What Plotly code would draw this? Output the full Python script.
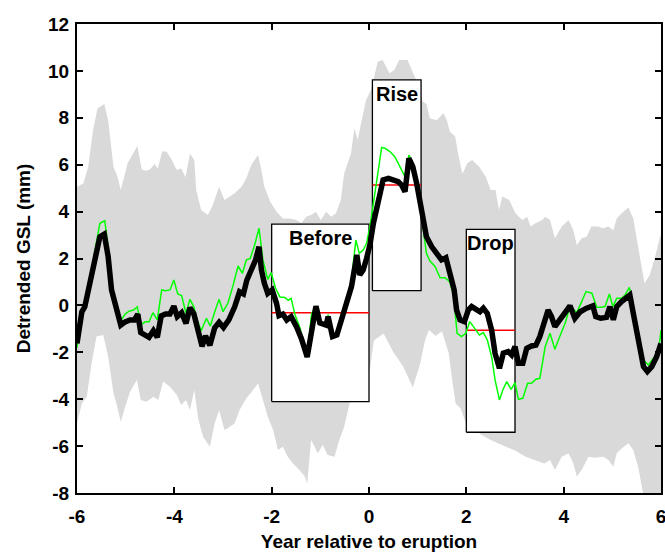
import plotly.graph_objects as go

# ---- observed detrended GSL (thick black) ----
obs_t = [-6.0, -5.90, -5.84, -5.73, -5.63, -5.53, -5.44, -5.36, -5.29, -5.21, -5.10, -5.01, -4.91, -4.82,
         -4.75, -4.69, -4.60, -4.52, -4.43, -4.35, -4.27, -4.18, -4.09, -4.01, -3.94, -3.85, -3.76, -3.68,
         -3.60, -3.53, -3.43, -3.36, -3.27, -3.17, -3.08, -2.99, -2.88, -2.76, -2.66, -2.58, -2.51, -2.42,
         -2.33, -2.26, -2.21, -2.15, -2.08, -1.99, -1.90, -1.85, -1.77, -1.69, -1.60, -1.49, -1.39, -1.27,
         -1.09, -1.01, -0.88, -0.84, -0.75, -0.66, -0.56, -0.46, -0.36, -0.29, -0.25, -0.19, -0.12, -0.05,
         0.02, 0.09, 0.16, 0.23, 0.29, 0.40, 0.50, 0.60, 0.67, 0.74, 0.82, 0.90, 0.98, 1.08, 1.18, 1.29,
         1.39, 1.49, 1.58, 1.66, 1.75, 1.80, 1.87, 1.96, 2.04, 2.11, 2.20, 2.28, 2.35, 2.43, 2.52, 2.59,
         2.68, 2.76, 2.86, 2.93, 3.00, 3.07, 3.16, 3.24, 3.34, 3.43, 3.51, 3.62, 3.68, 3.75, 3.82, 3.92,
         4.03, 4.13, 4.23, 4.34, 4.47, 4.60, 4.66, 4.76, 4.88, 4.95, 5.02, 5.09, 5.19, 5.29, 5.36, 5.45,
         5.53, 5.64, 5.72, 5.81, 5.91, 6.0]
obs_v = [-1.62, -0.27, -0.06, 0.94, 2.08, 2.93, 3.04, 2.08, 0.66, -0.06, -0.84, -0.70, -0.62, -0.62,
         -0.37, -1.16, -1.26, -1.36, -1.08, -1.36, -0.45, -0.37, -0.37, -0.03, -0.48, -0.31, -0.77, -0.10,
         -0.35, -0.95, -1.75, -1.30, -1.70, -0.95, -0.72, -0.94, -0.62, -0.06, 0.58, 0.49, 1.08, 1.51,
         1.94, 2.50, 1.51, 0.94, 0.51, 0.66, 0.09, -0.44, -0.37, -0.62, -0.48, -0.91, -1.41, -2.20,
         -0.03, -0.75, -0.84, -0.48, -1.33, -1.26, -0.62, 0.09, 0.80, 1.65, 2.15, 1.30, 1.51, 2.00,
         2.60, 3.50, 4.14, 4.78, 5.35, 5.42, 5.38, 5.28, 5.13, 4.85, 6.27, 5.92, 5.20, 4.07, 2.93, 2.50,
         2.22, 1.94, 2.03, 1.40, 0.66, -0.20, -0.62, -0.69, -0.20, -0.05, -0.20, -0.27, -0.12, -0.34, -1.05, -2.04,
         -2.68, -2.04, -1.97, -2.11, -1.76, -2.47, -2.47, -1.83, -1.73, -1.69, -1.33, -0.69, -0.20, -0.48, -0.91, -0.62,
         -0.34, -0.02, -0.55, -0.27, -0.12, -0.02, -0.48, -0.55, -0.51, -0.05, -0.62, -0.05, 0.16, 0.37, 0.44, -0.55,
         -1.47, -2.61, -2.82, -2.61, -2.19, -1.62]

# ---- composite / model series (thin green) ----
mod_t = [-6.0, -5.91, -5.84, -5.73, -5.63, -5.53, -5.43, -5.36, -5.27, -5.19, -5.10, -5.01, -4.93, -4.84,
         -4.76, -4.69, -4.60, -4.52, -4.44, -4.35, -4.26, -4.18, -4.09, -4.01, -3.93, -3.85, -3.76, -3.68,
         -3.60, -3.53, -3.45, -3.34, -3.26, -3.17, -3.08, -3.00, -2.90, -2.80, -2.69, -2.60, -2.52, -2.44,
         -2.35, -2.26, -2.18, -2.08, -2.01, -1.92, -1.83, -1.73, -1.66, -1.60, -1.52, -1.42, -1.27, -1.18,
         -1.09, -1.01, -0.88, -0.84, -0.75, -0.65, -0.56, -0.46, -0.36, -0.27, -0.20, -0.12, -0.05, 0.02,
         0.12, 0.21, 0.26, 0.33, 0.43, 0.53, 0.60, 0.67, 0.74, 0.82, 0.90, 0.98, 1.08, 1.18, 1.25, 1.36,
         1.46, 1.56, 1.66, 1.74, 1.81, 1.90, 1.99, 2.07, 2.18, 2.27, 2.35, 2.43, 2.52, 2.59, 2.68, 2.75,
         2.83, 2.92, 3.00, 3.07, 3.16, 3.26, 3.34, 3.43, 3.51, 3.62, 3.72, 3.82, 3.92, 4.03, 4.13, 4.27,
         4.37, 4.46, 4.58, 4.68, 4.78, 4.85, 4.94, 5.01, 5.09, 5.19, 5.26, 5.35, 5.43, 5.53, 5.64, 5.74,
         5.84, 5.95, 6.0]
mod_v = [-1.80, -0.34, -0.13, 1.08, 2.36, 3.50, 3.61, 2.50, 0.66, 0.09, -0.65, -0.37, -0.25, -0.20,
         -0.06, -0.84, -0.70, -0.70, -0.31, -0.62, 0.66, 0.63, 0.66, 1.08, 0.49, 0.42, -0.34, 0.26,
         -0.06, -0.62, -1.08, -0.55, -0.88, -0.27, 0.26, -0.27, 0.09, 0.80, 1.68, 1.37, 1.94, 2.00,
         2.57, 3.29, 1.94, 1.11, 1.40, 0.73, 0.36, 0.34, 0.22, 0.30, -0.40, -0.95, -2.22, -0.34,
         -0.03, -0.75, -0.75, -0.40, -1.20, -1.17, -0.48, 0.37, 1.08, 2.79, 2.22, 2.36, 2.65, 3.36,
         4.78, 5.92, 6.74, 6.70, 6.56, 6.34, 6.06, 5.77, 5.49, 6.41, 6.06, 4.92, 3.78, 2.22, 1.90, 1.65,
         1.18, 1.18, 1.01, 0.40, -1.19, -1.33, -1.19, -0.69, -0.98, -1.26, -1.16, -1.47, -2.19, -3.18, -4.03, -3.61,
         -3.25, -3.58, -3.29, -4.01, -3.96, -3.32, -3.32, -3.15, -3.11, -1.76, -1.19, -1.87, -1.33, -0.76, -0.05, -0.31,
         0.16, 0.59, 0.52, -0.08, -0.08, -0.05, 0.49, -0.05, 0.30, 0.30, 0.44, 0.77, -0.05, -1.05, -2.33, -2.54,
         -2.26, -1.97, -1.05]

# ---- grey envelope ----
up_t = [-6.0, -5.87, -5.77, -5.67, -5.58, -5.44, -5.36, -5.25, -5.18, -5.10, -4.96, -4.86, -4.76, -4.67,
        -4.58, -4.50, -4.41, -4.34, -4.25, -4.16, -4.07, -3.95, -3.86, -3.77, -3.68, -3.59, -3.55, -3.45,
        -3.31, -3.21, -3.08, -2.97, -2.86, -2.76, -2.62, -2.52, -2.42, -2.28, -2.21, -2.15, -2.03, -1.90,
        -1.77, -1.63, -1.49, -1.39, -1.29, -1.19, -1.09, -0.99, -0.88, -0.78, -0.68, -0.58, -0.51, -0.37,
        -0.30, -0.23, -0.165, -0.06, 0.04, 0.18, 0.28, 0.42, 0.52, 0.62, 0.79, 0.90, 1.0, 1.1, 1.18, 1.25,
        1.39, 1.53, 1.6, 1.66, 1.77, 1.83, 1.92, 2.02, 2.12, 2.26, 2.4, 2.5, 2.6, 2.67, 2.74, 2.88, 3.01,
        3.15, 3.25, 3.32, 3.42, 3.56, 3.62, 3.72, 3.82, 3.96, 4.10, 4.20, 4.27, 4.37, 4.47, 4.57, 4.71,
        4.81, 4.92, 5.02, 5.09, 5.19, 5.33, 5.43, 5.53, 5.66, 5.77, 5.88, 5.98, 6.0]
up_v = [5.06, 5.2, 5.9, 7.48, 8.4, 8.59, 7.9, 5.9, 5.56, 4.92, 6.06, 6.41, 6.8, 5.8,
        5.74, 5.8, 6.03, 5.84, 6.56, 6.56, 6.27, 5.77, 5.84, 5.46, 6.48, 6.2, 4.92, 4.07,
        3.85, 4.28, 5.06, 4.49, 4.63, 4.78, 5.06, 5.42, 5.99, 6.41, 5.77, 5.06, 4.42, 4.0,
        3.71, 3.71, 3.64, 3.5, 3.78, 3.85, 3.99, 3.64, 3.99, 3.78, 3.92, 4.5, 5.63, 6.48,
        7.55, 7.05, 7.76, 8.76, 9.19, 10.39, 10.46, 9.9, 10.04, 10.46, 10.46, 9.97, 9.47, 8.69, 8.6, 7.98,
        7.9, 8.19, 7.9, 7.4, 7.2, 6.48, 5.6, 6.06, 6.2, 5.92, 5.49, 4.92, 4.92, 4.07, 4.64, 4.49, 3.93,
        3.64, 3.78, 3.36, 3.5, 3.64, 3.78, 3.64, 2.86, 3.36, 3.64, 3.2, 2.57, 2.86, 2.93, 3.36, 3.36,
        3.29, 3.36, 3.2, 3.71, 3.93, 4.18, 3.71, 2.5, 0.94, 1.3, 2.08, 2.93, 3.0]
lo_t = [-6.0, -5.90, -5.80, -5.70, -5.60, -5.46, -5.36, -5.25, -5.19, -5.10, -5.01, -4.91, -4.77, -4.69,
        -4.57, -4.43, -4.33, -4.23, -4.09, -3.95, -3.86, -3.76, -3.68, -3.59, -3.51, -3.41, -3.27, -3.17,
        -3.08, -2.97, -2.90, -2.76, -2.66, -2.52, -2.38, -2.28, -2.18, -2.08, -1.97, -1.87, -1.77, -1.67,
        -1.56, -1.43, -1.32, -1.27, -1.19, -1.05, -0.95, -0.85, -0.71, -0.61, -0.51, -0.40, -0.25, -0.1,
        0.0, 0.1, 0.3, 0.5, 0.7, 0.9, 1.05, 1.15, 1.23, 1.37, 1.5, 1.64, 1.71, 1.78, 1.88, 1.99, 2.1,
        2.3, 2.5, 2.7, 3.01, 3.22, 3.40, 3.60, 3.72, 3.82, 3.96, 4.10, 4.20, 4.27, 4.37, 4.51, 4.64,
        4.81, 4.92, 5.02, 5.09, 5.19, 5.33, 5.43, 5.53, 5.64, 5.8, 6.0]
lo_v = [-5.03, -4.18, -3.9, -2.47, -1.33, -1.26, -2.19, -3.75, -4.18, -4.96, -4.32, -3.68, -3.18, -4.03,
        -4.11, -3.9, -4.03, -3.25, -3.47, -3.82, -4.25, -4.03, -4.46, -3.61, -4.82, -5.6, -6.03, -5.03,
        -4.46, -5.31, -5.24, -5.03, -4.46, -3.96, -3.61, -3.32, -4.03, -4.75, -5.31, -6.17, -6.03, -6.45,
        -6.74, -7.02, -7.3, -7.6, -5.74, -6.31, -5.95, -6.38, -6.45, -5.74, -5.17, -4.18, -3.3, -3.0,
        -3.0, -1.5, -1.2, -2.0, -2.6, -3.5, -2.5, -1.5, -1.05, -1.3, -1.1, -2.05, -3.2, -4.18, -4.39, -5.0, -5.2,
        -5.5, -5.74, -5.9, -6.2, -6.45, -6.6, -6.74, -6.59, -7.02, -6.45, -6.31, -6.74, -7.3, -7.02, -6.45, -6.5,
        -6.45, -6.59, -6.88, -6.31, -6.1, -5.88, -6.17, -6.88, -8.1, -8.6, -8.6]

# ---- analysis windows ----
box_labels = ["Before", "Rise", "Drop"]
box_x0 = [-2.0, 0.07, 2.0]
box_x1 = [0.0, 1.07, 3.0]
box_y0 = [-4.1, 0.63, -5.41]
box_y1 = [3.47, 9.62, 3.24]
box_mean = [-0.31, 5.13, -1.06]

x_ticks = [-6, -4, -2, 0, 2, 4, 6]
x_ticktext = ["-6", "-4", "-2", "0", "2", "4", "6"]
y_ticks = [-8, -6, -4, -2, 0, 2, 4, 6, 8, 10, 12]
y_ticktext = ["-8", "-6", "-4", "-2", "0", "2", "4", "6", "8", "10", "12"]

FONT = "Liberation Sans, Arial, sans-serif"

fig = go.Figure()

# envelope
fig.add_trace(go.Scatter(x=up_t + lo_t[::-1], y=up_v + lo_v[::-1], fill="toself",
                         fillcolor="#d9d9d9", line=dict(width=0), mode="lines",
                         hoverinfo="skip", showlegend=False))

# boxes (white fill, black outline)
for x0, x1, y0, y1 in zip(box_x0, box_x1, box_y0, box_y1):
    fig.add_trace(go.Scatter(x=[x0, x1, x1, x0, x0], y=[y0, y0, y1, y1, y0], fill="toself",
                             fillcolor="white", mode="lines",
                             line=dict(color="black", width=1.3), showlegend=False))

# red mean lines
rx, ry = [], []
for x0, x1, m in zip(box_x0, box_x1, box_mean):
    rx += [x0, x1, None]
    ry += [m, m, None]
fig.add_trace(go.Scatter(x=rx, y=ry, mode="lines", line=dict(color="#ff0000", width=1.5),
                         showlegend=False))

fig.add_trace(go.Scatter(x=mod_t, y=mod_v, mode="lines", line=dict(color="#00ff00", width=1.5),
                         showlegend=False))
fig.add_trace(go.Scatter(x=obs_t, y=obs_v, mode="lines", line=dict(color="black", width=5.5),
                         showlegend=False))

for lab, x0, x1, y1 in zip(box_labels, box_x0, box_x1, box_y1):
    fig.add_annotation(x=(x0 + x1) / 2, y=y1, text=lab, showarrow=False, yanchor="top",
                       xanchor="center", yshift=-1,
                       font=dict(family=FONT, size=20, color="black", weight="bold"))

axis_common = dict(showline=True, linecolor="black", linewidth=2, mirror="ticks",
                   ticks="inside", ticklen=6, tickwidth=1.5, tickcolor="black",
                   showgrid=False, zeroline=False, ticklabeloverflow="allow",
                   tickfont=dict(family=FONT, size=19, color="black", weight="bold"))

fig.update_layout(
    width=665, height=553, template="none",
    paper_bgcolor="white", plot_bgcolor="white",
    margin=dict(l=77, r=4, t=24, b=60),
    xaxis=dict(range=[-6, 6], tickvals=x_ticks, ticktext=x_ticktext,
               ticklabelstandoff=5,
               title=dict(text="Year relative to eruption", standoff=9,
                          font=dict(family=FONT, size=19, color="black", weight="bold")),
               **axis_common),
    yaxis=dict(range=[-8, 12], tickvals=y_ticks, ticktext=y_ticktext,
               ticklabelstandoff=2,
               title=dict(text="Detrended GSL (mm)", standoff=12,
                          font=dict(family=FONT, size=19, color="black", weight="bold")),
               **axis_common),
)

fig.write_html("out.html")
